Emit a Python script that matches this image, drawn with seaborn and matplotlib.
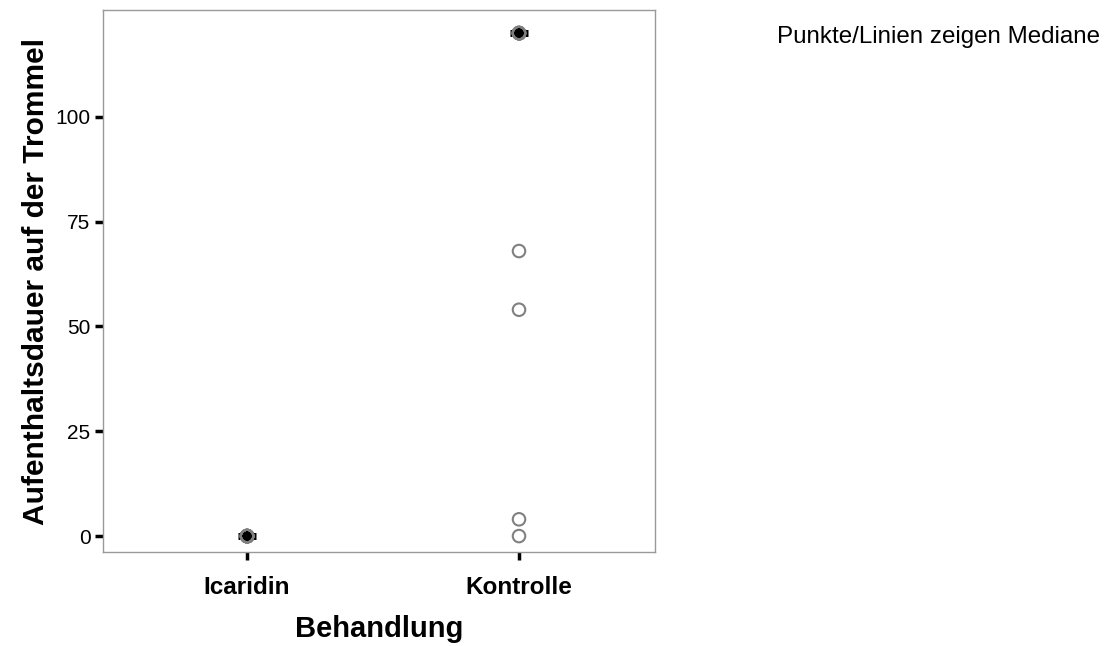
import matplotlib
matplotlib.use("Agg")
import matplotlib.pyplot as plt
import seaborn as sns
import numpy as np
import pandas as pd

categories = ["Icaridin", "Kontrolle"]
icaridin_values = [0, 0, 0, 0, 0, 0, 0, 0, 0, 0]
kontrolle_values = [120, 120, 120, 120, 120, 120, 68, 54, 4, 0]

df = pd.DataFrame({
    "Behandlung": ["Icaridin"] * len(icaridin_values) + ["Kontrolle"] * len(kontrolle_values),
    "Dauer": icaridin_values + kontrolle_values,
})

sns.set_theme(style="white")
plt.rcParams['font.family'] = ['Liberation Sans', 'DejaVu Sans']

fig = plt.figure(figsize=(11.12, 6.46), dpi=100)
ax = fig.add_axes([0.0926, 0.1455, 0.4964, 0.839])

# median line segments
med = df.groupby("Behandlung")["Dauer"].median().reindex(categories)
ax.hlines(med.values, np.arange(len(categories)) - 0.033,
          np.arange(len(categories)) + 0.033, colors="black", linewidth=5, zorder=2)

sns.pointplot(data=df, x="Behandlung", y="Dauer", order=categories,
              estimator=np.median, errorbar=None, color="black",
              linestyles="none", markers="o", markersize=8, ax=ax, zorder=3)

n_before = len(ax.collections)
sns.stripplot(data=df, x="Behandlung", y="Dauer", order=categories,
              jitter=False, marker="o", size=9, edgecolor="#808080",
              linewidth=1.5, ax=ax, zorder=4)
for c in ax.collections[n_before:]:
    c.set_facecolor("none")
    c.set_edgecolor("#808080")

ax.set_xlim(-0.53, 1.5)
ax.set_ylim(-3.8, 125.5)
ax.set_yticks([0, 25, 50, 75, 100])
ax.set_yticklabels(["0", "25", "50", "75", "100"], fontsize=15)
ax.set_xticks([0, 1])
ax.set_xticklabels(categories, fontsize=17.5, fontweight="bold")
ax.tick_params(axis="both", direction="out", length=6, width=2.5, color="black",
               bottom=True, left=True, labelcolor="black")
ax.tick_params(axis="y", pad=3)
ax.tick_params(axis="x", pad=11)
for s in ax.spines.values():
    s.set_color("#999999")
    s.set_linewidth(1.0)
ax.set_xlabel("Behandlung", fontsize=21, fontweight="bold", labelpad=12, color="black")
ax.set_ylabel("Aufenthaltsdauer auf der Trommel", fontsize=21.5, fontweight="bold",
              labelpad=4, color="black")
ax.grid(False)

fig.text(777 / 1112, 1 - 37 / 646, "Punkte/Linien zeigen Mediane", fontsize=17.4,
         ha="left", va="center", color="black")

fig.savefig("out.png", dpi=100)
